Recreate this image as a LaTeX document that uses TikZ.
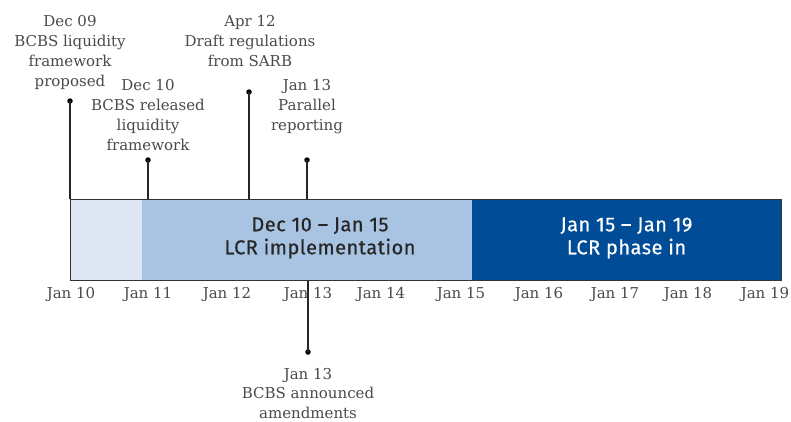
\documentclass[tikz,border=0pt]{standalone}
\usepackage{fontspec}
\setmainfont{DejaVu Serif}
\newfontfamily\barfont[LetterSpace=2.5,FakeBold=0.6]{Fira Sans}
\definecolor{lightblue}{HTML}{DDE6F2}
\definecolor{midblue}{HTML}{A8C4E2}
\definecolor{darkblue}{HTML}{004C97}
\definecolor{labelgray}{HTML}{4A4A4A}
\definecolor{edgegray}{HTML}{333333}
\tikzset{
  lbl/.style={align=center, text=labelgray, font=\fontsize{15}{20}\selectfont, inner sep=0pt, anchor=north},
  ticklbl/.style={text=labelgray, font=\fontsize{15}{16}\selectfont, inner sep=0pt, anchor=base},
  bartxt/.style={align=center, font=\barfont\fontsize{20}{23}\selectfont, inner sep=0pt},
  stem/.style={draw=black!85, line width=1.6pt},
  dotmark/.style={circle, fill=black, inner sep=0pt, minimum size=5.5pt},
}
\begin{document}
\begin{tikzpicture}[x=1pt,y=-1pt]
\useasboundingbox (0,0) rectangle (791,421);
% bar segments
\fill[lightblue] (70,199) rectangle (142,280);
\fill[midblue] (142,199) rectangle (472,280);
\fill[darkblue] (472,199) rectangle (781,280);
\node[draw=edgegray, line width=1.3pt, minimum width=711pt, minimum height=81pt, inner sep=0pt, anchor=north west] (bar) at (70,199) {};
\node[bartxt, text=black!85] (impl) at (320,238) {Dec 10 – Jan 15\\LCR implementation};
\node[bartxt, text=white] (phase) at (626.5,238) {Jan 15 – Jan 19\\LCR phase in};
% tick labels
\foreach \x/\t [count=\i] in {71/Jan 10,148/Jan 11,227/Jan 12,308/Jan 13,381/Jan 14,461/Jan 15,539/Jan 16,615/Jan 17,688/Jan 18,765/Jan 19}
  \node[ticklbl] (tick\i) at (\x,298) {\t};
% events
\node[dotmark] (d1) at (70,101) {};
\node[dotmark] (d2) at (148,160) {};
\node[dotmark] (d3) at (249,92) {};
\node[dotmark] (d4) at (307,160) {};
\node[dotmark] (d5) at (308,352) {};
\draw[stem] (d1.center) -- (d1.center |- bar.north);
\draw[stem] (d2.center) -- (d2.center |- bar.north);
\draw[stem] (d3.center) -- (d3.center |- bar.north);
\draw[stem] (d4.center) -- (d4.center |- bar.north);
\draw[stem] (d5.center) -- (d5.center |- bar.south);
\node[lbl] (t1) at (70,15) {Dec 09\\BCBS liquidity\\framework\\proposed};
\node[lbl] (t2) at (148,79) {Dec 10\\BCBS released\\liquidity\\framework};
\node[lbl] (t3) at (250,15) {Apr 12\\Draft regulations\\from SARB};
\node[lbl] (t4) at (307,79) {Jan 13\\Parallel\\reporting};
\node[lbl, font=\fontsize{15}{19.5}\selectfont] (t5) at (308,368) {Jan 13\\BCBS announced\\amendments};
\end{tikzpicture}
\end{document}
